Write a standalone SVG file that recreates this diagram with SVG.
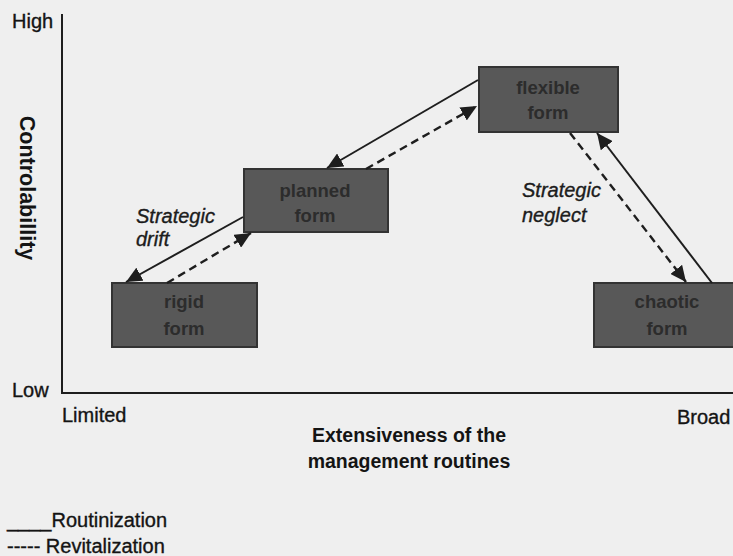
<svg xmlns="http://www.w3.org/2000/svg" width="733" height="556" viewBox="0 0 733 556">
<style>
  .bg { fill: #efefef; }
  .axis { stroke: #1e1e1e; stroke-width: 2; fill: none; }
  .lbl { font-family: "Liberation Sans", Arial, sans-serif; font-size: 20px; fill: #141414; stroke: #141414; stroke-width: 0.35; }
  .bold { font-weight: bold; stroke-width: 0; }
  .ital { font-style: italic; fill: #1e1e1e; }
  .box { fill: #585858; stroke: #333; stroke-width: 2; }
  .boxtxt { font-family: "Liberation Sans", Arial, sans-serif; font-size: 18.5px; font-weight: bold; fill: #2c2c2c; text-anchor: middle; }
  .solid { stroke: #1e1e1e; stroke-width: 2; fill: none; marker-end: url(#ah); }
  .dash { stroke: #1e1e1e; stroke-width: 2.4; fill: none; stroke-dasharray: 8 5; marker-end: url(#ah); }
</style>
<defs>
  <marker id="ah" markerUnits="userSpaceOnUse" markerWidth="17" markerHeight="15" refX="16" refY="7.5" orient="auto">
    <path d="M0,0 L16,7.5 L0,15 z" fill="#1e1e1e"/>
  </marker>
</defs>
<rect class="bg" x="0" y="0" width="733" height="556"/>

<g id="axes">
  <path class="axis" d="M62,14 L62,393 L733,393"/>
  <text class="lbl" x="12" y="28">High</text>
  <text class="lbl" x="12" y="397">Low</text>
  <text class="lbl bold" x="0" y="0" text-anchor="middle" transform="translate(20,188) rotate(90)" style="font-size:21.5px">Controlabillity</text>
  <text class="lbl" x="62" y="422">Limited</text>
  <text class="lbl" x="677" y="424">Broad</text>
  <text class="lbl bold" x="409" y="442" text-anchor="middle" style="font-size:19.5px">Extensiveness of the</text>
  <text class="lbl bold" x="409" y="468" text-anchor="middle" style="font-size:19.5px">management routines</text>
</g>

<g id="legend">
  <text class="lbl" x="7" y="527">____Routinization</text>
  <text class="lbl" x="7" y="553">----- Revitalization</text>
</g>

<g id="node-rigid">
  <rect class="box" x="112" y="283" width="145" height="64"/>
  <text class="boxtxt" x="184" y="308">rigid</text>
  <text class="boxtxt" x="184" y="335">form</text>
</g>
<g id="node-planned">
  <rect class="box" x="244" y="169" width="144" height="63"/>
  <text class="boxtxt" x="315" y="197">planned</text>
  <text class="boxtxt" x="315" y="222">form</text>
</g>
<g id="node-flexible">
  <rect class="box" x="479" y="67" width="139" height="65"/>
  <text class="boxtxt" x="548" y="94">flexible</text>
  <text class="boxtxt" x="548" y="119">form</text>
</g>
<g id="node-chaotic">
  <rect class="box" x="594" y="283" width="146" height="64"/>
  <text class="boxtxt" x="667" y="308">chaotic</text>
  <text class="boxtxt" x="667" y="335">form</text>
</g>

<g id="connectors">
  <line class="solid" x1="478" y1="80" x2="327" y2="168"/>
  <line class="dash" x1="366" y1="169" x2="477" y2="106"/>
  <line class="solid" x1="243" y1="217" x2="126" y2="282"/>
  <line class="dash" x1="167" y1="283" x2="251" y2="233"/>
  <line class="dash" x1="570" y1="133" x2="686" y2="282"/>
  <line class="solid" x1="712" y1="283" x2="597" y2="133"/>
</g>

<g id="connector-labels">
  <text class="lbl ital" x="136" y="223">Strategic</text>
  <text class="lbl ital" x="136" y="246">drift</text>
  <text class="lbl ital" x="522" y="197">Strategic</text>
  <text class="lbl ital" x="522" y="222">neglect</text>
</g>
</svg>
